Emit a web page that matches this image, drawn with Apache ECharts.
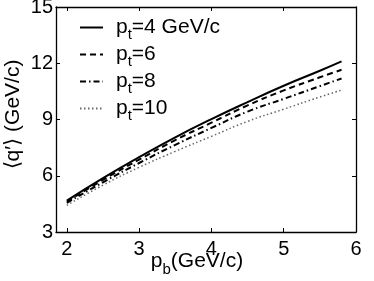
<!DOCTYPE html>
<html><head><meta charset="utf-8">
<script src="https://cdn.jsdelivr.net/npm/echarts@6/dist/echarts.min.js"></script>
<style>html,body{margin:0;padding:0;background:#fff}#c{width:374px;height:281px}</style>
</head><body><div id="c"></div>
<script>
var pb = [2, 2.5, 3, 3.5, 4, 4.5, 5, 5.5, 5.8];
var q4  = [4.67, 5.87, 6.99, 8.05, 9.02, 9.93, 10.8, 11.6, 12.1];
var q6  = [4.62, 5.78, 6.86, 7.9, 8.83, 9.75, 10.55, 11.25, 11.65];
var q8  = [4.55, 5.65, 6.68, 7.65, 8.55, 9.42, 10.1, 10.78, 11.19];
var q10 = [4.42, 5.5, 6.45, 7.3, 8.1, 8.9, 9.55, 10.2, 10.57];
var names = ['4 GeV/c', '6', '8', '10'];
var xTicks = [2, 3, 4, 5, 6];

function pairs(ys){ return pb.map(function(x,i){return [x, ys[i]];}); }
var FONT = '"Liberation Sans", Arial, sans-serif';
var styles = [
  {type:'solid', color:'#000', width:2},
  {type:[6,4], color:'#000', width:2},
  {type:[6,3,1.5,3], color:'#000', width:2},
  {type:[1.5,2.5], color:'#666', width:1.5}
];
var data = [q4, q6, q8, q10];
var series = data.map(function(d,i){
  return {name:names[i], type:'line', data:pairs(d), smooth:true, symbol:'none',
    lineStyle:styles[i], itemStyle:{color:styles[i].color}, xAxisIndex:0, yAxisIndex:0, z:3};
});
var chart = echarts.init(document.getElementById('c'));
var axCommon = {axisLine:{lineStyle:{color:'#000', width:1.3}}, splitLine:{show:false},
  axisTick:{inside:true, length:4, lineStyle:{color:'#000', width:1}}};
chart.setOption({
  animation:false,
  textStyle:{fontFamily:FONT},
  grid:{left:56, right:18, top:7, bottom:49, outerBoundsMode:'none', containLabel:false},
  legend:{orient:'vertical', left:74, top:12, itemWidth:23, itemHeight:12, itemGap:2,
    itemStyle:{opacity:0},
    textStyle:{fontFamily:FONT, fontSize:21, color:'#000', padding:[0,0,0,8],
      rich:{p:{fontSize:21, fontFamily:FONT, color:'#000'}, s:{fontSize:15, fontFamily:FONT, color:'#000', padding:[14,0,0,0]}}},
    formatter:function(n){return '{p|p}{s|t}{p|=' + n + '}';},
    data:names.map(function(n){return {name:n};})
  },
  xAxis:[
    Object.assign({type:'value', min:1.85, max:6, position:'bottom',
      axisLabel:{customValues:xTicks, color:'#000', fontSize:20, fontFamily:FONT, margin:7},
      name:'{p|p}{s|b}{p|(GeV/c)}', nameLocation:'middle', nameGap:14, nameMoveOverlap:false,
      nameTextStyle:{padding:[0,18,0,0], rich:{p:{fontSize:21, fontFamily:FONT, color:'#000'}, s:{fontSize:15, fontFamily:FONT, color:'#000', padding:[16,0,0,0]}}}
    }, axCommon, {axisTick:Object.assign({customValues:xTicks}, axCommon.axisTick)}),
    Object.assign({type:'value', min:1.85, max:6, position:'top',
      axisLabel:{show:false}}, axCommon, {axisTick:Object.assign({customValues:xTicks}, axCommon.axisTick)})
  ],
  yAxis:[
    Object.assign({type:'value', min:3, max:15, interval:3, position:'left',
      axisLabel:{color:'#000', fontSize:20, fontFamily:FONT, margin:3},
      name:'\u27E8q\u2032\u27E9 (GeV/c)', nameLocation:'middle', nameGap:32, nameRotate:90, nameMoveOverlap:false,
      nameTextStyle:{fontSize:21, fontFamily:FONT, color:'#000', padding:[0,0,0,10]}}, axCommon),
    Object.assign({type:'value', min:3, max:15, interval:3, position:'right',
      axisLabel:{show:false}}, axCommon)
  ],
  series:series
});
</script></body></html>
